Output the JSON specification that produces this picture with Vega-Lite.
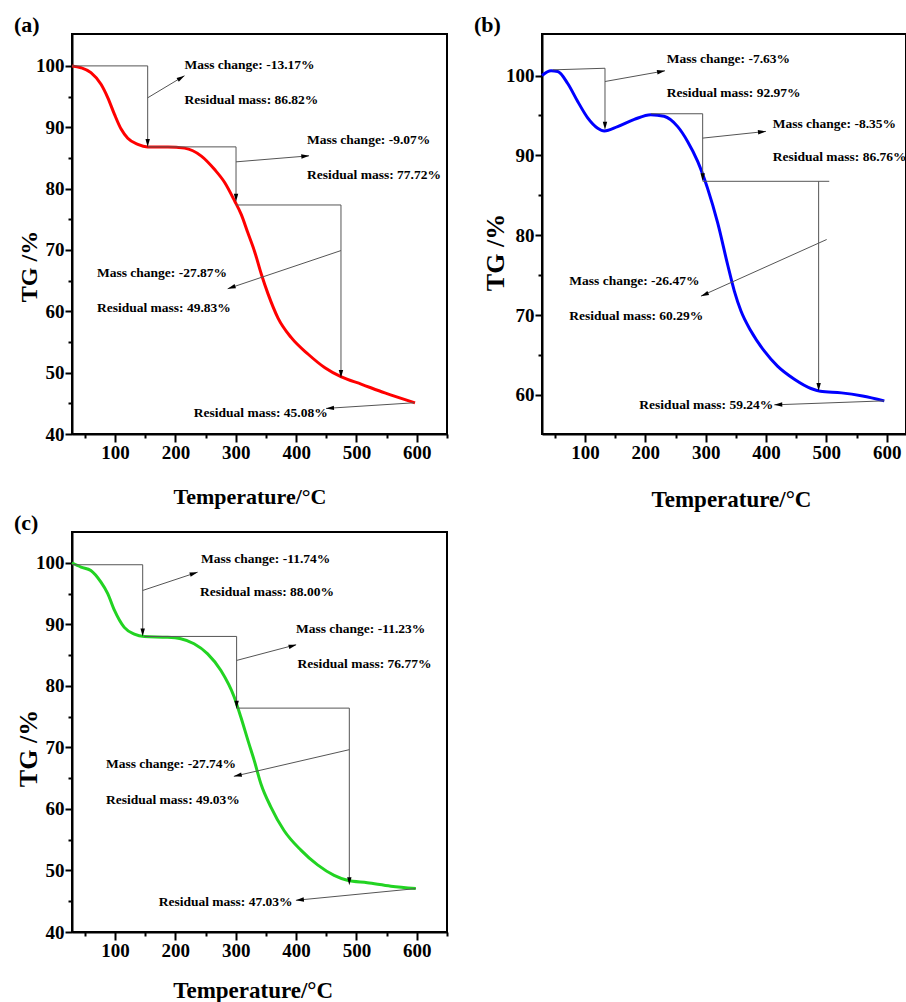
{
  "$schema": "https://vega.github.io/schema/vega-lite/v6.json",
  "background": "white",
  "padding": {"left": 13, "top": 13, "right": 0, "bottom": 0},
  "bounds": "flush",
  "columns": 2,
  "spacing": {"row": 98, "column": 95},
  "config": {
    "view": {"stroke": "black", "strokeWidth": 2},
    "axis": {
      "labelFont": "Liberation Serif", "labelFontWeight": "bold", "labelFontSize": 19, "labelColor": "black",
      "titleFont": "Liberation Serif", "titleFontWeight": "bold", "titleColor": "black",
      "domainColor": "black", "domainWidth": 2, "tickColor": "black", "tickWidth": 2,
      "grid": false, "labelFlush": false, "labelOverlap": false
    },
    "title": {"font": "Liberation Serif", "fontWeight": "bold", "fontSize": 22, "color": "black", "anchor": "start", "frame": "group", "offset": -3, "baseline": "bottom"},
    "text": {"font": "Liberation Serif", "fontWeight": "bold", "fontSize": 13.5, "color": "black", "baseline": "middle"},
    "rule": {"color": "#555555", "strokeWidth": 1}
  },
  "datasets": {
    "curveA": [
      {"t": 28.6, "v": 100.0}, {"t": 43.5, "v": 99.7}, {"t": 60, "v": 98.9}, {"t": 76.7, "v": 97.0}, {"t": 88, "v": 94.8},
      {"t": 99, "v": 92.1}, {"t": 110, "v": 89.7}, {"t": 121, "v": 88.2}, {"t": 137.7, "v": 87.2}, {"t": 154, "v": 86.8},
      {"t": 187.5, "v": 86.8}, {"t": 215, "v": 86.6}, {"t": 243, "v": 85.3}, {"t": 265, "v": 83.1}, {"t": 281.6, "v": 81.0},
      {"t": 298, "v": 78.0}, {"t": 309, "v": 75.8}, {"t": 320, "v": 72.8}, {"t": 331, "v": 69.8}, {"t": 342.5, "v": 66.0},
      {"t": 353.6, "v": 62.8}, {"t": 370, "v": 58.9}, {"t": 392, "v": 55.7}, {"t": 420, "v": 53.0}, {"t": 447.7, "v": 50.8},
      {"t": 475, "v": 49.3}, {"t": 508.6, "v": 48.1}, {"t": 547, "v": 46.7}, {"t": 597, "v": 45.08}
    ],
    "segA": [
      {"t": 28.6, "v": 100, "t2": 154, "v2": 100},
      {"t": 154, "v": 100, "t2": 154, "v2": 87.45},
      {"t": 154, "v": 94.8, "t2": 215, "v2": 98.4},
      {"t": 154, "v": 86.8, "t2": 300.4, "v2": 86.8},
      {"t": 300.4, "v": 86.8, "t2": 300.4, "v2": 78.5},
      {"t": 300.4, "v": 84.36, "t2": 421.3, "v2": 85.34},
      {"t": 300.4, "v": 77.33, "t2": 474.3, "v2": 77.33},
      {"t": 474.3, "v": 77.33, "t2": 474.3, "v2": 49.8},
      {"t": 474.3, "v": 69.9, "t2": 286.6, "v2": 63.68},
      {"t": 595.8, "v": 45.09, "t2": 449.5, "v2": 44.17}
    ],
    "downA": [{"t": 154, "v": 87.45}, {"t": 300.4, "v": 78.5}, {"t": 474.3, "v": 49.8}],
    "txtA": [
      {"t": 215, "v": 100.08, "label": "Mass change: -13.17%"},
      {"t": 215, "v": 94.39, "label": "Residual mass: 86.82%"},
      {"t": 418, "v": 87.98, "label": "Mass change: -9.07%"},
      {"t": 418, "v": 82.2, "label": "Residual mass: 77.72%"},
      {"t": 70, "v": 66.22, "label": "Mass change: -27.87%"},
      {"t": 70, "v": 60.53, "label": "Residual mass: 49.83%"}
    ],
    "txtRA": [{"t": 452.3, "v": 43.46, "label": "Residual mass: 45.08%"}],
    "curveB": [
      {"t": 28.7, "v": 100.0}, {"t": 43.7, "v": 100.6}, {"t": 54.8, "v": 100.5}, {"t": 71.3, "v": 99.0}, {"t": 87.9, "v": 96.75},
      {"t": 104.4, "v": 94.7}, {"t": 121, "v": 93.4}, {"t": 132, "v": 93.05}, {"t": 154, "v": 93.6}, {"t": 181.7, "v": 94.5},
      {"t": 209, "v": 95.1}, {"t": 231, "v": 94.9}, {"t": 253.6, "v": 93.6}, {"t": 270, "v": 91.75}, {"t": 286.7, "v": 89.25},
      {"t": 303, "v": 85.9}, {"t": 320, "v": 81.5}, {"t": 336.4, "v": 76.3}, {"t": 347.5, "v": 73.0}, {"t": 358.5, "v": 70.5},
      {"t": 375, "v": 68.0}, {"t": 397, "v": 65.5}, {"t": 419, "v": 63.6}, {"t": 447, "v": 61.96}, {"t": 474.5, "v": 60.8},
      {"t": 490, "v": 60.45}, {"t": 525, "v": 60.25}, {"t": 560, "v": 59.85}, {"t": 596, "v": 59.25}
    ],
    "segB": [
      {"t": 46.5, "v": 100.71, "t2": 133.1, "v2": 100.91},
      {"t": 133.1, "v": 100.91, "t2": 133.1, "v2": 93.71},
      {"t": 133.1, "v": 99.25, "t2": 232.6, "v2": 100.59},
      {"t": 209.4, "v": 95.21, "t2": 295, "v2": 95.21},
      {"t": 295, "v": 95.21, "t2": 295, "v2": 87.25},
      {"t": 295, "v": 92.16, "t2": 399.9, "v2": 93.0},
      {"t": 295, "v": 86.75, "t2": 504.8, "v2": 86.75},
      {"t": 487.2, "v": 86.75, "t2": 487.2, "v2": 61.0},
      {"t": 500.5, "v": 79.46, "t2": 292.2, "v2": 72.38},
      {"t": 596, "v": 59.25, "t2": 413.7, "v2": 58.75}
    ],
    "downB": [{"t": 133.1, "v": 93.71}, {"t": 295, "v": 87.25}, {"t": 487.2, "v": 61.0}],
    "txtB": [
      {"t": 235.4, "v": 102.08, "label": "Mass change: -7.63%"},
      {"t": 235.4, "v": 97.79, "label": "Residual mass: 92.97%"},
      {"t": 411, "v": 93.96, "label": "Mass change: -8.35%"},
      {"t": 411, "v": 89.75, "label": "Residual mass: 86.76%"},
      {"t": 74, "v": 74.25, "label": "Mass change: -26.47%"},
      {"t": 74, "v": 69.88, "label": "Residual mass: 60.29%"}
    ],
    "txtRB": [{"t": 412, "v": 58.75, "label": "Residual mass: 59.24%"}],
    "curveC": [
      {"t": 28.8, "v": 100.0}, {"t": 43.7, "v": 99.3}, {"t": 60, "v": 98.75}, {"t": 76.8, "v": 96.85}, {"t": 88, "v": 95.0},
      {"t": 99, "v": 92.3}, {"t": 115.4, "v": 89.5}, {"t": 132, "v": 88.4}, {"t": 148.5, "v": 88.0}, {"t": 187, "v": 87.9},
      {"t": 209, "v": 87.65}, {"t": 231, "v": 86.85}, {"t": 253.5, "v": 85.2}, {"t": 275.5, "v": 82.5}, {"t": 297.5, "v": 78.2},
      {"t": 308.6, "v": 74.9}, {"t": 321, "v": 70.9}, {"t": 330.6, "v": 67.9}, {"t": 341.7, "v": 64.1}, {"t": 358.3, "v": 60.3},
      {"t": 380, "v": 56.5}, {"t": 408, "v": 53.3}, {"t": 435.6, "v": 50.9}, {"t": 463, "v": 49.2}, {"t": 485, "v": 48.4},
      {"t": 518, "v": 48.0}, {"t": 557, "v": 47.45}, {"t": 598.3, "v": 47.05}
    ],
    "segC": [
      {"t": 28.8, "v": 99.68, "t2": 145.9, "v2": 99.68},
      {"t": 145.9, "v": 99.68, "t2": 145.9, "v2": 88.68},
      {"t": 145.9, "v": 95.5, "t2": 236.9, "v2": 98.47},
      {"t": 148.5, "v": 88.03, "t2": 301.5, "v2": 88.03},
      {"t": 301.5, "v": 88.03, "t2": 301.5, "v2": 76.94},
      {"t": 301.5, "v": 84.13, "t2": 399.7, "v2": 86.68},
      {"t": 301.5, "v": 76.38, "t2": 488.2, "v2": 76.38},
      {"t": 488.2, "v": 76.38, "t2": 488.2, "v2": 48.24},
      {"t": 488.2, "v": 69.63, "t2": 296.9, "v2": 65.29},
      {"t": 598.3, "v": 47.05, "t2": 399.7, "v2": 45.15}
    ],
    "downC": [{"t": 145.9, "v": 88.68}, {"t": 301.5, "v": 76.94}, {"t": 488.2, "v": 48.24}],
    "txtC": [
      {"t": 242.4, "v": 100.65, "label": "Mass change: -11.74%"},
      {"t": 241, "v": 95.22, "label": "Residual mass: 88.00%"},
      {"t": 399.7, "v": 89.17, "label": "Mass change: -11.23%"},
      {"t": 402.5, "v": 83.6, "label": "Residual mass: 76.77%"},
      {"t": 85.1, "v": 67.24, "label": "Mass change: -27.74%"},
      {"t": 85.1, "v": 61.51, "label": "Residual mass: 49.03%"}
    ],
    "txtRC": [{"t": 394.2, "v": 44.88, "label": "Residual mass: 47.03%"}]
  },
  "concat": [
    {
      "width": 375, "height": 400,
      "title": {"text": "(a)", "dx": -58},
      "encoding": {
        "x": {"field": "t", "type": "quantitative",
          "scale": {"domain": [28.6, 650], "nice": false, "zero": false},
          "axis": {"values": [50, 100, 150, 200, 250, 300, 350, 400, 450, 500, 550, 600, 650],
            "labelExpr": "datum.value % 100 === 0 ? datum.label : ''",
            "tickSize": {"condition": {"test": "datum.value % 100 === 0", "value": 8}, "value": 4},
            "labelPadding": 1,
            "title": "Temperature/°C", "titleFontSize": 22, "titleX": 177.5, "titleY": 69, "titleBaseline": "alphabetic", "titleAlign": "center"}},
        "y": {"field": "v", "type": "quantitative",
          "scale": {"domain": [40, 105.2], "nice": false, "zero": false},
          "axis": {"values": [40, 45, 50, 55, 60, 65, 70, 75, 80, 85, 90, 95, 100],
            "labelExpr": "datum.value % 10 === 0 ? datum.label : ''",
            "tickSize": {"condition": {"test": "datum.value % 10 === 0", "value": 7}, "value": 4},
            "labelPadding": 1,
            "title": "TG /%", "titleFontSize": 24, "titleX": -36, "titleY": 232, "titleBaseline": "alphabetic", "titleAlign": "center", "titleAngle": -90}}
      },
      "layer": [
        {"data": {"name": "curveA"}, "mark": {"type": "line", "color": "#ff0000", "strokeWidth": 3, "interpolate": "monotone"}},
        {"data": {"name": "segA"}, "mark": {"type": "rule"}, "encoding": {"x2": {"field": "t2"}, "y2": {"field": "v2"}}},
        {"data": {"name": "downA"}, "mark": {"type": "point", "shape": "M1,0L-1,-0.55L-1,0.55Z", "size": 64, "angle": 90, "filled": true, "color": "black", "opacity": 1, "strokeWidth": 0}},
        {"data": {"values": [{"t": 209.4, "v": 98.06}]}, "mark": {"type": "point", "shape": "M1,0L-1,-0.55L-1,0.55Z", "size": 64, "angle": -31, "filled": true, "color": "black", "opacity": 1, "strokeWidth": 0}},
        {"data": {"values": [{"t": 415.2, "v": 85.29}]}, "mark": {"type": "point", "shape": "M1,0L-1,-0.55L-1,0.55Z", "size": 64, "angle": -5, "filled": true, "color": "black", "opacity": 1, "strokeWidth": 0}},
        {"data": {"values": [{"t": 292.9, "v": 63.89}]}, "mark": {"type": "point", "shape": "M1,0L-1,-0.55L-1,0.55Z", "size": 64, "angle": 161, "filled": true, "color": "black", "opacity": 1, "strokeWidth": 0}},
        {"data": {"values": [{"t": 456.1, "v": 44.22}]}, "mark": {"type": "point", "shape": "M1,0L-1,-0.55L-1,0.55Z", "size": 64, "angle": 176, "filled": true, "color": "black", "opacity": 1, "strokeWidth": 0}},
        {"data": {"name": "txtA"}, "mark": {"type": "text", "align": "left"}, "encoding": {"text": {"field": "label"}}},
        {"data": {"name": "txtRA"}, "mark": {"type": "text", "align": "right"}, "encoding": {"text": {"field": "label"}}}
      ]
    },
    {
      "width": 364, "height": 400,
      "title": {"text": "(b)", "dx": -68},
      "encoding": {
        "x": {"field": "t", "type": "quantitative",
          "scale": {"domain": [28.7, 632], "nice": false, "zero": false},
          "axis": {"values": [50, 100, 150, 200, 250, 300, 350, 400, 450, 500, 550, 600],
            "labelExpr": "datum.value % 100 === 0 ? datum.label : ''",
            "tickSize": {"condition": {"test": "datum.value % 100 === 0", "value": 8}, "value": 4},
            "labelPadding": 1,
            "title": "Temperature/°C", "titleFontSize": 23, "titleX": 189, "titleY": 72, "titleBaseline": "alphabetic", "titleAlign": "center"}},
        "y": {"field": "v", "type": "quantitative",
          "scale": {"domain": [55.1, 105.2], "nice": false, "zero": false},
          "axis": {"values": [60, 65, 70, 75, 80, 85, 90, 95, 100],
            "labelExpr": "datum.value % 10 === 0 ? datum.label : ''",
            "tickSize": {"condition": {"test": "datum.value % 10 === 0", "value": 7}, "value": 4},
            "labelPadding": 1,
            "title": "TG /%", "titleFontSize": 26, "titleX": -39, "titleY": 218, "titleBaseline": "alphabetic", "titleAlign": "center", "titleAngle": -90}}
      },
      "layer": [
        {"data": {"name": "curveB"}, "mark": {"type": "line", "color": "#0000ff", "strokeWidth": 3, "interpolate": "monotone"}},
        {"data": {"name": "segB"}, "mark": {"type": "rule"}, "encoding": {"x2": {"field": "t2"}, "y2": {"field": "v2"}}},
        {"data": {"name": "downB"}, "mark": {"type": "point", "shape": "M1,0L-1,-0.55L-1,0.55Z", "size": 64, "angle": 90, "filled": true, "color": "black", "opacity": 1, "strokeWidth": 0}},
        {"data": {"values": [{"t": 226.1, "v": 100.5}]}, "mark": {"type": "point", "shape": "M1,0L-1,-0.55L-1,0.55Z", "size": 64, "angle": -10, "filled": true, "color": "black", "opacity": 1, "strokeWidth": 0}},
        {"data": {"values": [{"t": 393.3, "v": 92.95}]}, "mark": {"type": "point", "shape": "M1,0L-1,-0.55L-1,0.55Z", "size": 64, "angle": -6, "filled": true, "color": "black", "opacity": 1, "strokeWidth": 0}},
        {"data": {"values": [{"t": 298.2, "v": 72.57}]}, "mark": {"type": "point", "shape": "M1,0L-1,-0.55L-1,0.55Z", "size": 64, "angle": 156, "filled": true, "color": "black", "opacity": 1, "strokeWidth": 0}},
        {"data": {"values": [{"t": 420.3, "v": 58.77}]}, "mark": {"type": "point", "shape": "M1,0L-1,-0.55L-1,0.55Z", "size": 64, "angle": 178, "filled": true, "color": "black", "opacity": 1, "strokeWidth": 0}},
        {"data": {"name": "txtB"}, "mark": {"type": "text", "align": "left"}, "encoding": {"text": {"field": "label"}}},
        {"data": {"name": "txtRB"}, "mark": {"type": "text", "align": "right"}, "encoding": {"text": {"field": "label"}}}
      ]
    },
    {
      "width": 375, "height": 400,
      "title": {"text": "(c)", "dx": -58},
      "encoding": {
        "x": {"field": "t", "type": "quantitative",
          "scale": {"domain": [28.8, 650], "nice": false, "zero": false},
          "axis": {"values": [50, 100, 150, 200, 250, 300, 350, 400, 450, 500, 550, 600, 650],
            "labelExpr": "datum.value % 100 === 0 ? datum.label : ''",
            "tickSize": {"condition": {"test": "datum.value % 100 === 0", "value": 8}, "value": 4},
            "labelPadding": 1,
            "title": "Temperature/°C", "titleFontSize": 23, "titleX": 180.7, "titleY": 65, "titleBaseline": "alphabetic", "titleAlign": "center"}},
        "y": {"field": "v", "type": "quantitative",
          "scale": {"domain": [40, 105], "nice": false, "zero": false},
          "axis": {"values": [40, 45, 50, 55, 60, 65, 70, 75, 80, 85, 90, 95, 100],
            "labelExpr": "datum.value % 10 === 0 ? datum.label : ''",
            "tickSize": {"condition": {"test": "datum.value % 10 === 0", "value": 7}, "value": 4},
            "labelPadding": 1,
            "title": "TG /%", "titleFontSize": 26, "titleX": -36, "titleY": 216, "titleBaseline": "alphabetic", "titleAlign": "center", "titleAngle": -90}}
      },
      "layer": [
        {"data": {"name": "curveC"}, "mark": {"type": "line", "color": "#22d322", "strokeWidth": 3, "interpolate": "monotone"}},
        {"data": {"name": "segC"}, "mark": {"type": "rule"}, "encoding": {"x2": {"field": "t2"}, "y2": {"field": "v2"}}},
        {"data": {"name": "downC"}, "mark": {"type": "point", "shape": "M1,0L-1,-0.55L-1,0.55Z", "size": 64, "angle": 90, "filled": true, "color": "black", "opacity": 1, "strokeWidth": 0}},
        {"data": {"values": [{"t": 230.6, "v": 98.27}]}, "mark": {"type": "point", "shape": "M1,0L-1,-0.55L-1,0.55Z", "size": 64, "angle": -18, "filled": true, "color": "black", "opacity": 1, "strokeWidth": 0}},
        {"data": {"values": [{"t": 394.4, "v": 86.52}]}, "mark": {"type": "point", "shape": "M1,0L-1,-0.55L-1,0.55Z", "size": 64, "angle": -15, "filled": true, "color": "black", "opacity": 1, "strokeWidth": 0}},
        {"data": {"values": [{"t": 303.3, "v": 65.44}]}, "mark": {"type": "point", "shape": "M1,0L-1,-0.55L-1,0.55Z", "size": 64, "angle": 167, "filled": true, "color": "black", "opacity": 1, "strokeWidth": 0}},
        {"data": {"values": [{"t": 406.3, "v": 45.22}]}, "mark": {"type": "point", "shape": "M1,0L-1,-0.55L-1,0.55Z", "size": 64, "angle": 174, "filled": true, "color": "black", "opacity": 1, "strokeWidth": 0}},
        {"data": {"name": "txtC"}, "mark": {"type": "text", "align": "left"}, "encoding": {"text": {"field": "label"}}},
        {"data": {"name": "txtRC"}, "mark": {"type": "text", "align": "right"}, "encoding": {"text": {"field": "label"}}}
      ]
    }
  ]
}
